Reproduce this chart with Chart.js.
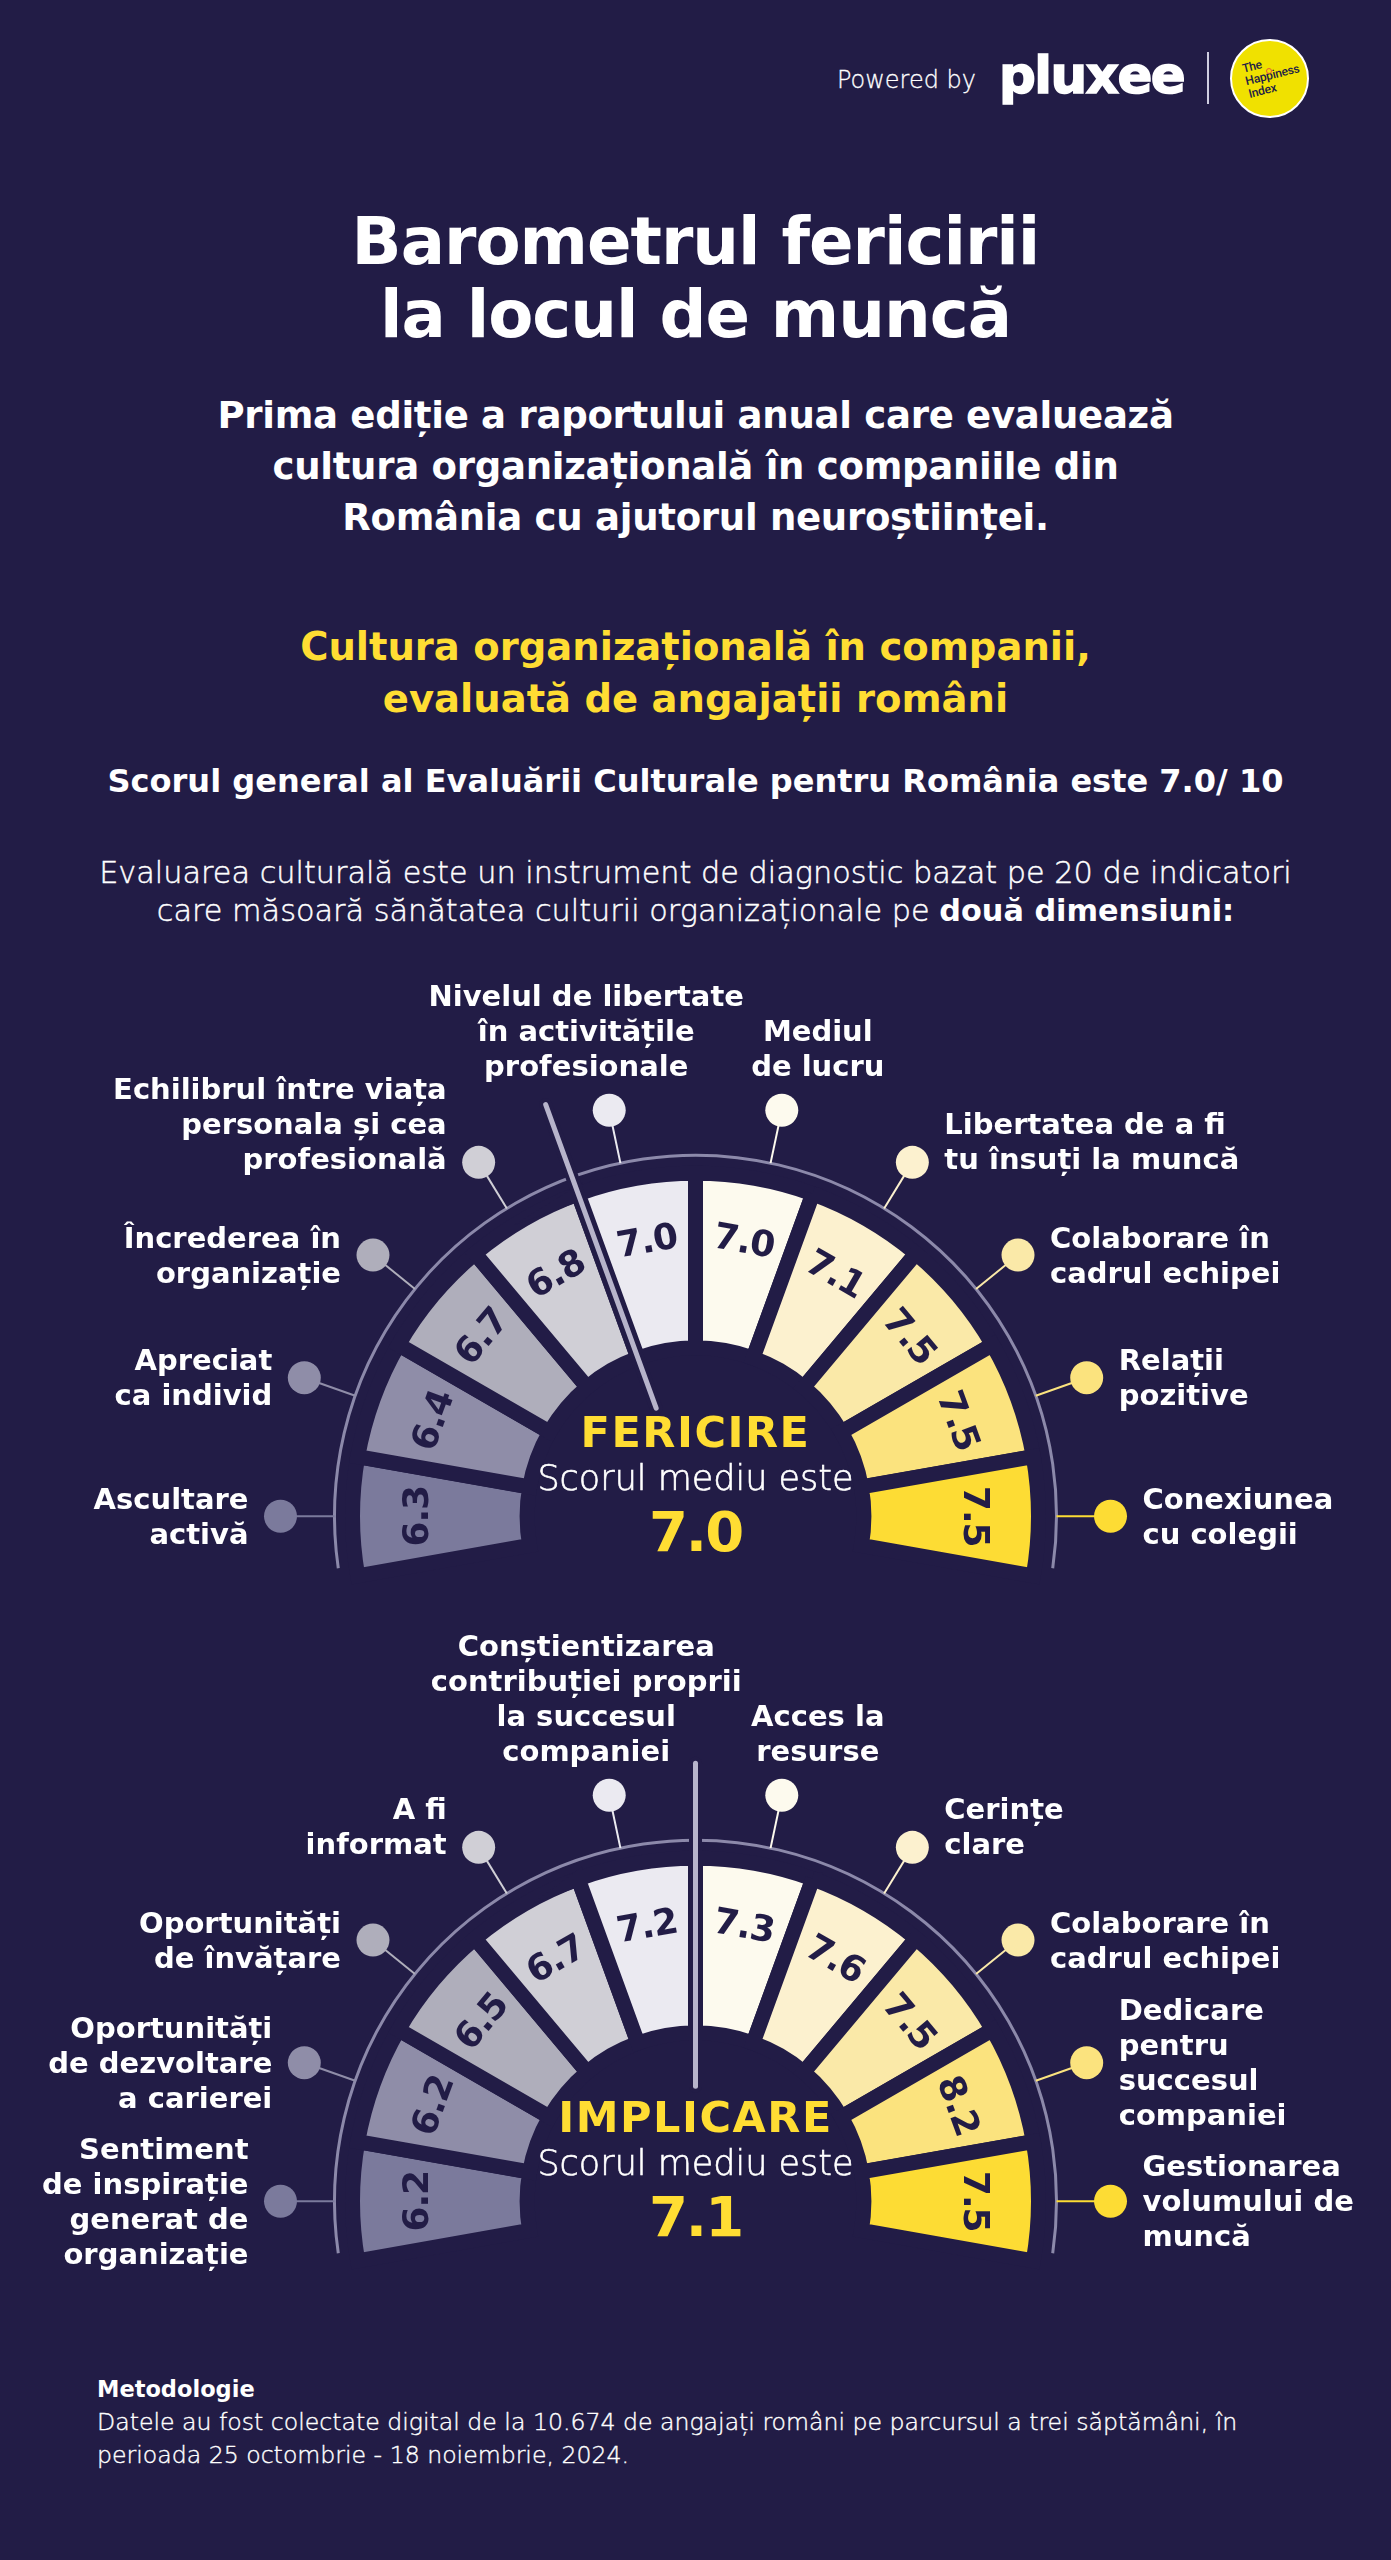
<!DOCTYPE html>
<html lang="ro">
<head>
<meta charset="utf-8">
<title>Barometrul fericirii la locul de muncă</title>
<script src="https://cdn.jsdelivr.net/npm/chart.js@4.4.1/dist/chart.umd.min.js"></script>
<style>
  html, body { margin: 0; padding: 0; background: #221C46; }
  .page { position: relative; width: 1391px; height: 2560px; background: #221C46; overflow: hidden;
          font-family: "DejaVu Sans", sans-serif; color: #fff; }
  .txt { position: absolute; left: 0; width: 1391px; text-align: center; white-space: nowrap; }
  .title { top: 205px; font-size: 66px; line-height: 73px; font-weight: bold; letter-spacing: -1px; }
  .subtitle { top: 390px; font-size: 36px; line-height: 51px; font-weight: bold; letter-spacing: -0.3px; }
  .heading { top: 621px; font-size: 38px; line-height: 52px; font-weight: bold; color: #FFDD33; }
  .score { top: 761px; font-size: 32px; line-height: 40px; font-weight: bold; }
  .intro { top: 854px; font-size: 28px; line-height: 38px; font-weight: 200; -webkit-text-stroke: 0.45px #fff; }
  .intro b { font-weight: bold; -webkit-text-stroke: 0; }
  .method-title { position: absolute; left: 97px; top: 2373px; font-size: 22.5px; line-height: 33px; font-weight: bold; }
  .method { position: absolute; left: 97px; top: 2406px; font-size: 22px; line-height: 33px;
            font-weight: 200; white-space: nowrap; -webkit-text-stroke: 0.4px #fff; }
  .powered { position: absolute; left: 837px; top: 68px; font-size: 24px; line-height: 24px; font-weight: 200;
             white-space: nowrap; -webkit-text-stroke: 0.3px #fff; }
  .logo { position: absolute; left: 999px; top: 50px; font-size: 50px; line-height: 50px; font-weight: bold;
          letter-spacing: -1.5px; -webkit-text-stroke: 1.6px #fff; white-space: nowrap; }
  .sep { position: absolute; left: 1207px; top: 52px; width: 2px; height: 52px; background: #cfcde0; }
  .badge { position: absolute; left: 1230px; top: 39px; width: 75px; height: 75px; border-radius: 50%;
           background: #F0E100; border: 2px solid #fff; }
  .badge-text { position: absolute; left: 9px; top: 22px; font-family: Roboto, sans-serif; font-weight: 500;
                font-size: 12px; line-height: 13px; letter-spacing: -0.2px; color: #221C46;
                transform: rotate(-14deg); transform-origin: left top; white-space: nowrap; }
  .badge-dot { position: absolute; left: 1266px; top: 68px; width: 4px; height: 4px; border-radius: 50%;
               border: 1px solid #e8573b; }
  .gauge { position: absolute; left: 0; width: 1391px; }
</style>
</head>
<body>
<div class="page">
  <div class="powered"><span class="ln">Powered by</span></div>
  <div class="logo"><span class="ln">pluxee</span></div>
  <div class="sep"></div>
  <div class="badge"><div class="badge-text">The<br>Happiness<br>Index</div></div>
  <div class="badge-dot"></div>

  <div class="txt title"><span class="ln">Barometrul fericirii</span><br><span>la locul de muncă</span></div>
  <div class="txt subtitle"><span class="ln">Prima ediție a raportului anual care evaluează</span><br>cultura organizațională în companiile din<br>România cu ajutorul neuroștiinței.</div>
  <div class="txt heading"><span class="ln">Cultura organizațională în companii,</span><br>evaluată de angajații români</div>
  <div class="txt score"><span class="ln">Scorul general al Evaluării Culturale pentru România este 7.0/ 10</span></div>
  <div class="txt intro"><span class="ln">Evaluarea culturală este un instrument de diagnostic bazat pe 20 de indicatori</span><br>care măsoară sănătatea culturii organizaționale pe <b>două dimensiuni:</b></div>

  <div class="gauge" style="top:960px;height:650px"><canvas id="fericireChart"></canvas></div>
  <div class="gauge" style="top:1610px;height:690px"><canvas id="implicareChart"></canvas></div>

  <div class="method-title">Metodologie</div>
  <div class="method"><span class="ln">Datele au fost colectate digital de la 10.674 de angajați români pe parcursul a trei săptămâni, în</span><br>perioada 25 octombrie - 18 noiembrie, 2024.</div>
</div>

<script>
// Fericire
const fericireLabels = [
    ['Ascultare', 'activă'],
    ['Apreciat', 'ca individ'],
    ['Încrederea în', 'organizație'],
    ['Echilibrul între viața', 'personala și cea', 'profesională'],
    ['Nivelul de libertate', 'în activitățile', 'profesionale'],
    ['Mediul', 'de lucru'],
    ['Libertatea de a fi', 'tu însuți la muncă'],
    ['Colaborare în', 'cadrul echipei'],
    ['Relații', 'pozitive'],
    ['Conexiunea', 'cu colegii']
];
const fericireScores = [6.3, 6.4, 6.7, 6.8, 7.0, 7.0, 7.1, 7.5, 7.5, 7.5];
const fericireAverage = 7.0;

// Implicare
const implicareLabels = [
    ['Sentiment', 'de inspirație', 'generat de', 'organizație'],
    ['Oportunități', 'de dezvoltare', 'a carierei'],
    ['Oportunități', 'de învățare'],
    ['A fi', 'informat'],
    ['Conștientizarea', 'contribuției proprii', 'la succesul', 'companiei'],
    ['Acces la', 'resurse'],
    ['Cerințe', 'clare'],
    ['Colaborare în', 'cadrul echipei'],
    ['Dedicare', 'pentru', 'succesul', 'companiei'],
    ['Gestionarea', 'volumului de', 'muncă']
];
const implicareScores = [6.2, 6.2, 6.5, 6.7, 7.2, 7.3, 7.6, 7.5, 8.2, 7.5];
const implicareAverage = 7.1;

// every indicator gets the same slice of the gauge
const segmentWeights = [1, 1, 1, 1, 1, 1, 1, 1, 1, 1];

const BG = '#221C46';
const YELLOW = '#FFDD33';
const segmentColors = [
    '#7b7a9c', '#8f8da8', '#afaebb', '#d0cfd6', '#ebeaf1',
    '#fdfaee', '#fcf1cf', '#fae9a8', '#fbe37e', '#fddc34'
];

// widest line of each text block, measured on the original
function fitWidth(selector, target) {
    const el = document.querySelector(selector);
    const w = el.querySelector('.ln').getBoundingClientRect().width;
    const fs = parseFloat(getComputedStyle(el).fontSize);
    el.style.fontSize = (fs * target / w).toFixed(2) + 'px';
}
fitWidth('.powered', 139);
fitWidth('.logo', 185);
fitWidth('.title', 688);
fitWidth('.subtitle', 956);
fitWidth('.heading', 791);
fitWidth('.score', 1176);
fitWidth('.intro', 1193);
fitWidth('.method', 1140);

const deg = Math.PI / 180;

const gaugeLabels = {
    id: 'gaugeLabels',
    afterDatasetsDraw(chart, args, opts) {
        const ctx = chart.ctx;
        const arcs = chart.getDatasetMeta(0).data;
        const cx = arcs[0].x;
        const cy = arcs[0].y;
        const labels = chart.data.labels;

        ctx.save();

        // thin outer ring
        ctx.beginPath();
        ctx.arc(cx, cy, 361, 171.7 * deg, 368.3 * deg);
        ctx.strokeStyle = '#8c89aa';
        ctx.lineWidth = 3;
        ctx.stroke();

        // scores inside the segments
        ctx.fillStyle = BG;
        ctx.font = 'bold 36px "DejaVu Sans"';
        ctx.letterSpacing = '-1px';
        ctx.textAlign = 'center';
        ctx.textBaseline = 'alphabetic';
        arcs.forEach((arc, i) => {
            const mid = (arc.startAngle + arc.endAngle) / 2;
            ctx.save();
            ctx.translate(cx + Math.cos(mid) * 281, cy + Math.sin(mid) * 281);
            ctx.rotate(mid + Math.PI / 2);
            ctx.fillText(opts.scores[i].toFixed(1), 0, 13);
            ctx.restore();
        });
        ctx.letterSpacing = '0px';

        // needle
        const na = (opts.needle - 90) * deg;
        ctx.lineCap = 'round';
        ctx.beginPath();
        ctx.moveTo(cx + Math.cos(na) * 115, cy + Math.sin(na) * 115);
        ctx.lineTo(cx + Math.cos(na) * 438, cy + Math.sin(na) * 438);
        ctx.strokeStyle = BG;
        ctx.lineWidth = 13;
        ctx.stroke();
        ctx.strokeStyle = '#b7b4cb';
        ctx.lineWidth = 5;
        ctx.stroke();
        ctx.lineCap = 'butt';

        // leader lines, dots and indicator names
        ctx.font = 'bold 29px "DejaVu Sans"';
        arcs.forEach((arc, i) => {
            const mid = (arc.startAngle + arc.endAngle) / 2;
            const color = segmentColors[i];
            const side = Math.cos(mid) < 0 ? -1 : 1;
            const elev = Math.asin(Math.max(-1, Math.min(1, -Math.sin(mid)))) / deg;
            // the dots sit a touch lower than the segment middles
            const e = elev * 0.975 * deg;
            const ux = side * Math.cos(e);
            const uy = -Math.sin(e);
            const dx = cx + ux * 415;
            const dy = cy + uy * 415;

            ctx.beginPath();
            ctx.moveTo(cx + ux * 361, cy + uy * 361);
            ctx.lineTo(dx, dy);
            ctx.strokeStyle = color;
            ctx.lineWidth = 2;
            ctx.stroke();

            ctx.beginPath();
            ctx.arc(dx, dy, 16.5, 0, Math.PI * 2);
            ctx.fillStyle = color;
            ctx.fill();

            const lines = labels[i];
            const left = side < 0;
            const lh = 35;
            let x, lastCenter;
            if (elev > 70) {
                ctx.textAlign = 'center';
                x = dx + (left ? -23 : 36);
                lastCenter = dy - 44;
            } else if (elev > 45) {
                ctx.textAlign = left ? 'right' : 'left';
                x = dx + (left ? -32 : 32);
                lastCenter = dy - 3;
            } else {
                ctx.textAlign = left ? 'right' : 'left';
                x = dx + (left ? -32 : 32);
                lastCenter = dy + (lines.length - 1) * lh / 2;
            }
            ctx.fillStyle = '#ffffff';
            lines.forEach((line, k) => {
                const center = lastCenter - (lines.length - 1 - k) * lh;
                ctx.fillText(line, x, center + 10);
            });
        });

        // centre titles
        ctx.textAlign = 'center';
        ctx.fillStyle = YELLOW;
        ctx.font = 'bold 43px "DejaVu Sans"';
        ctx.letterSpacing = '1.5px';
        ctx.fillText(opts.title, cx, cy - 69);
        ctx.letterSpacing = '0px';
        ctx.fillStyle = '#ffffff';
        ctx.strokeStyle = '#ffffff';
        ctx.lineWidth = 0.6;
        ctx.font = '200 35px "DejaVu Sans"';
        ctx.fillText('Scorul mediu este', cx, cy - 26);
        ctx.strokeText('Scorul mediu este', cx, cy - 26);
        ctx.fillStyle = YELLOW;
        ctx.font = 'bold 56px "DejaVu Sans"';
        ctx.letterSpacing = '-2px';
        ctx.fillText(opts.average.toFixed(1), cx, cy + 35);
        ctx.letterSpacing = '0px';

        ctx.restore();
    }
};

function makeGauge(canvasId, labels, scores, average, title, needle, padTop) {
    const ctx = document.getElementById(canvasId).getContext('2d');
    return new Chart(ctx, {
        type: 'doughnut',
        data: {
            labels: labels,
            datasets: [{
                data: segmentWeights,
                backgroundColor: segmentColors,
                borderColor: BG,
                borderWidth: 15,
                borderJoinStyle: 'miter'
            }]
        },
        options: {
            responsive: true,
            maintainAspectRatio: false,
            animation: false,
            events: [],
            rotation: -100,
            circumference: 200,
            radius: 343,
            cutout: '49.1%',
            layout: { padding: { top: padTop } },
            plugins: {
                legend: { display: false },
                tooltip: { enabled: false },
                gaugeLabels: { scores: scores, average: average, title: title, needle: needle }
            }
        },
        plugins: [gaugeLabels]
    });
}

const fericireChart = makeGauge('fericireChart', fericireLabels, fericireScores, fericireAverage, 'FERICIRE', -20, 179);
const implicareChart = makeGauge('implicareChart', implicareLabels, implicareScores, implicareAverage, 'IMPLICARE', 0, 209);
</script>
</body>
</html>
